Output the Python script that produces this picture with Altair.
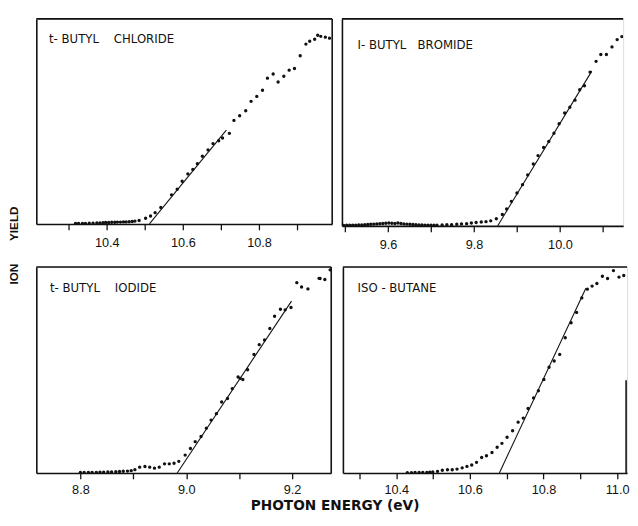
import altair as alt
import pandas as pd

# ---------------- data ----------------
# t-Butyl chloride
p1_x = [10.318, 10.326, 10.336, 10.344, 10.354, 10.364, 10.374, 10.382, 10.390, 10.397,
        10.405, 10.413, 10.421, 10.428, 10.436, 10.444, 10.451, 10.459, 10.467, 10.474,
        10.485, 10.502, 10.515, 10.527, 10.542, 10.570, 10.585, 10.598, 10.613, 10.626,
        10.638, 10.651, 10.666, 10.679, 10.694, 10.704, 10.722, 10.734, 10.749, 10.765,
        10.779, 10.794, 10.809, 10.822, 10.837, 10.850, 10.865, 10.879, 10.893, 10.908,
        10.923, 10.933, 10.946, 10.954, 10.962, 10.974, 10.985]
p1_y = [0.3, 0.3, 0.3, 0.3, 0.4, 0.4, 0.5, 0.5, 0.6, 0.7,
        0.7, 0.8, 0.8, 0.9, 0.9, 1.0, 1.0, 1.1, 1.2, 1.4,
        1.7, 2.8, 3.9, 5.5, 8.0, 14.2, 16.9, 20.8, 24.4, 26.6,
        29.4, 33.0, 36.1, 39.2, 40.6, 41.9, 44.2, 50.5, 52.8, 55.2,
        59.8, 62.2, 65.2, 71.1, 73.1, 69.2, 72.0, 75.0, 75.8, 82.0,
        87.7, 89.1, 90.1, 92.0, 91.5, 91.1, 90.6]
p1_fit_x = [10.512, 10.714]
p1_fit_y = [0.0, 45.8]

# i-Butyl bromide
p2_x = [9.497, 9.504, 9.511, 9.518, 9.525, 9.532, 9.539, 9.546, 9.553, 9.560,
        9.567, 9.574, 9.581, 9.588, 9.595, 9.602, 9.609, 9.616, 9.623, 9.630,
        9.637, 9.644, 9.651, 9.658, 9.665, 9.672, 9.679, 9.686, 9.693, 9.700,
        9.707, 9.714, 9.726, 9.737, 9.748, 9.760, 9.771, 9.783, 9.794, 9.805,
        9.817, 9.828, 9.839, 9.852, 9.866, 9.876, 9.887, 9.900, 9.913, 9.925,
        9.938, 9.949, 9.962, 9.974, 9.986, 9.998, 10.011, 10.023, 10.035, 10.046,
        10.057, 10.070, 10.084, 10.095, 10.108, 10.121, 10.133, 10.144, 10.155]
p2_y = [0.2, 0.3, 0.3, 0.4, 0.4, 0.5, 0.5, 0.6, 0.7, 0.8,
        0.9, 1.0, 1.1, 1.2, 1.3, 1.4, 1.3, 1.2, 1.4, 1.2,
        1.0, 0.9, 0.8, 0.7, 0.6, 0.5, 0.5, 0.4, 0.4, 0.3,
        0.3, 0.3, 0.5, 0.6, 0.6, 0.8, 1.0, 1.1, 1.4, 1.7,
        1.9, 2.1, 2.5, 3.5, 5.6, 8.3, 12.1, 16.2, 20.3, 25.1,
        30.5, 34.6, 38.6, 41.6, 45.6, 50.3, 55.6, 58.4, 61.9, 67.0,
        69.0, 75.7, 81.0, 84.4, 84.4, 88.1, 91.7, 93.2, 94.4]
p2_fit_x = [9.855, 10.074]
p2_fit_y = [0.0, 76.2]

# t-Butyl iodide
p3_x = [8.800, 8.807, 8.815, 8.822, 8.830, 8.837, 8.844, 8.852, 8.859, 8.867,
        8.874, 8.881, 8.889, 8.896, 8.903, 8.912, 8.922, 8.931, 8.940, 8.949,
        8.959, 8.968, 8.977, 8.986, 8.998, 9.008, 9.017, 9.028, 9.038, 9.047,
        9.057, 9.067, 9.078, 9.087, 9.098, 9.102, 9.107, 9.116, 9.128, 9.138,
        9.148, 9.158, 9.167, 9.178, 9.187, 9.198, 9.209, 9.218, 9.230, 9.251,
        9.253, 9.262, 9.272]
p3_y = [0.2, 0.2, 0.3, 0.3, 0.3, 0.4, 0.4, 0.5, 0.5, 0.6,
        0.7, 0.8, 0.9, 1.1, 1.6, 2.8, 3.1, 2.8, 2.3, 2.8,
        4.4, 4.4, 4.7, 5.6, 8.6, 11.8, 15.1, 17.6, 21.6, 25.5,
        28.6, 34.2, 35.9, 40.7, 46.3, 45.6, 45.1, 49.8, 57.2, 61.9,
        64.2, 69.7, 75.6, 79.0, 78.7, 79.8, 91.8, 89.7, 88.8, 93.9,
        93.8, 93.3, 98.0]
p3_fit_x = [8.983, 9.199]
p3_fit_y = [0.0, 82.9]

# iso-Butane
p4_x = [10.430, 10.441, 10.451, 10.462, 10.472, 10.483, 10.491, 10.499, 10.512, 10.525,
        10.539, 10.552, 10.565, 10.579, 10.592, 10.605, 10.618, 10.632, 10.645, 10.660,
        10.674, 10.687, 10.701, 10.716, 10.731, 10.745, 10.758, 10.773, 10.786, 10.801,
        10.815, 10.829, 10.844, 10.859, 10.875, 10.890, 10.904, 10.919, 10.932, 10.945,
        10.960, 10.974, 10.990, 11.005, 11.018]
p4_y = [0.1, 0.1, 0.2, 0.2, 0.3, 0.3, 0.4, 0.5, 0.8, 1.3,
        1.6, 1.6, 1.9, 2.5, 3.2, 3.9, 5.2, 7.6, 8.4, 10.0,
        12.6, 14.5, 17.5, 20.7, 24.9, 26.9, 31.6, 36.8, 40.3, 45.8,
        51.8, 54.9, 58.1, 66.3, 73.6, 78.7, 85.8, 90.1, 91.6, 92.9,
        96.4, 95.3, 99.2, 96.0, 96.8]
p4_fit_x = [10.680, 10.915]
p4_fit_y = [0.0, 90.5]

NB = "\u00a0"
names = ["t-" + NB + "BUTYL" + NB * 4 + "CHLORIDE",
         "I-" + NB + "BUTYL" + NB * 3 + "BROMIDE",
         "t-" + NB + "BUTYL" + NB * 4 + "IODIDE",
         "ISO" + NB + "-" + NB + "BUTANE"]
p1_ticks = [10.3, 10.4, 10.5, 10.6, 10.7, 10.8, 10.9]
p2_ticks = [9.5, 9.6, 9.7, 9.8, 9.9, 10.0, 10.1]
p3_ticks = [8.8, 8.9, 9.0, 9.1, 9.2]
p4_ticks = [10.3, 10.4, 10.5, 10.6, 10.7, 10.8, 10.9, 11.0]

x_title = "PHOTON ENERGY (eV)"
y_title = "ION" + NB * 7 + "YIELD"

LABEL_FONT = "Liberation Sans Narrow, Liberation Sans, sans-serif"
LABEL_EXPR = "round(datum.value * 10) % 2 == 0 ? format(datum.value, '.1f') : ''"
INK = "#111111"


def panel(xs, ys, fx, fy, name, ticks, xdom, ydom, w, h, yext, lpad, tx, ty,
          right_border=True, partial_right=None):
    pts = pd.DataFrame({"e": xs, "v": ys})
    fit = pd.DataFrame({"e": fx, "v": fy})
    one = pd.DataFrame({"k": [0]})

    xenc = alt.X("e:Q", scale=alt.Scale(domain=xdom, nice=False, zero=False),
                 axis=alt.Axis(values=ticks, labelExpr=LABEL_EXPR, tickSize=6, tickWidth=1.3,
                               tickColor=INK, domainColor=INK, domainWidth=1.6,
                               labelFont=LABEL_FONT, labelFontSize=13, labelColor=INK,
                               labelPadding=lpad, grid=False, labelFlush=False,
                               minExtent=24, maxExtent=24, title=None))
    yenc = alt.Y("v:Q", scale=alt.Scale(domain=ydom, nice=False, zero=False),
                 axis=alt.Axis(domain=True, ticks=False, labels=False, title=None,
                               grid=False, domainColor=INK, domainWidth=1.6,
                               minExtent=yext, maxExtent=yext))

    dots = alt.Chart(pts).mark_circle(size=12, color=INK, opacity=1, clip=True).encode(x=xenc, y=yenc)
    line = alt.Chart(fit).mark_line(color=INK, strokeWidth=1.1).encode(x="e:Q", y="v:Q")
    top = alt.Chart(one).mark_rule(color=INK, strokeWidth=1.6).encode(
        x=alt.value(0), x2=alt.value(w), y=alt.value(0))
    label = alt.Chart(one).mark_text(
        text=name, align="left", baseline="middle", font="DejaVu Sans",
        fontSize=12, color=INK).encode(x=alt.value(tx), y=alt.value(ty))
    layers = [dots, line, top, label]
    if right_border:
        layers.append(alt.Chart(one).mark_rule(color=INK, strokeWidth=1.6).encode(
            x=alt.value(w), y=alt.value(0), y2=alt.value(h)))
    if partial_right:
        layers.append(alt.Chart(one).mark_rule(color=INK, strokeWidth=1.6).encode(
            x=alt.value(w - 1), y=alt.value(partial_right), y2=alt.value(h)))
    return alt.layer(*layers).properties(width=w, height=h)


c1 = panel(p1_x, p1_y, p1_fit_x, p1_fit_y, names[0], p1_ticks,
           [10.215, 10.992], [0, 100], 303, 210, 11, 7, 13, 21)
c2 = panel(p2_x, p2_y, p2_fit_x, p2_fit_y, names[1], p2_ticks,
           [9.493, 10.147], [0, 101.9], 288, 212, 0, 7, 16, 27, right_border=False)
c3 = panel(p3_x, p3_y, p3_fit_x, p3_fit_y, names[2], p3_ticks,
           [8.7167, 9.274], [0, 99.4], 302, 211, 7, 5, 14, 22)
c4 = panel(p4_x, p4_y, p4_fit_x, p4_fit_y, names[3], p4_ticks,
           [10.255, 11.027], [0, 101], 291, 211, 0, 5, 15, 22, right_border=False,
           partial_right=116)

row1 = alt.hconcat(c1, c2, spacing=6)
row2 = alt.hconcat(c3, c4, spacing=8)

inner = alt.vconcat(row1, row2, spacing=13).properties(
    title=alt.TitleParams(x_title, orient="bottom", anchor="middle",
                          font="DejaVu Sans", fontSize=14, fontWeight="bold",
                          color=INK, offset=2, dx=8))

chart = alt.vconcat(inner).properties(
    title=alt.TitleParams(y_title, orient="left", anchor="middle",
                          font="Liberation Sans", fontSize=12, fontWeight="bold",
                          color=INK, offset=4, dx=20),
    padding={"left": 0, "top": 3, "right": 0, "bottom": 0},
).configure_view(stroke=None).configure(background="white")

chart.save("out.html", embed_options={"renderer": "svg", "actions": False})
